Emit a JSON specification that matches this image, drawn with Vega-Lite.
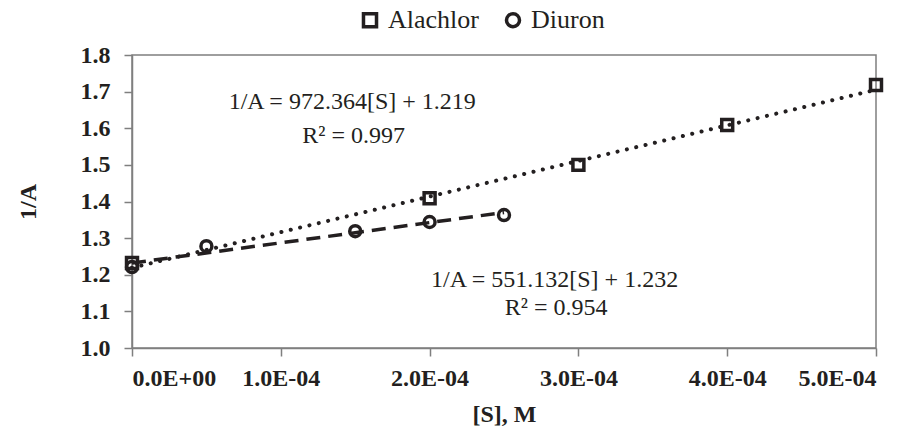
{
  "$schema": "https://vega.github.io/schema/vega-lite/v6.json",
  "width": 744,
  "height": 293,
  "autosize": "none",
  "padding": {"left": 132, "top": 55, "right": 46, "bottom": 84},
  "background": "white",
  "config": {
    "font": "Liberation Serif",
    "view": {"stroke": "#7f7f7f", "strokeWidth": 1.5},
    "axis": {
      "grid": false,
      "domainColor": "#7f7f7f",
      "domainWidth": 1.5,
      "tickColor": "#7f7f7f",
      "tickWidth": 1.5,
      "tickSize": 8,
      "labelOverlap": false,
      "labelFont": "Liberation Serif",
      "labelFontWeight": "bold",
      "labelFontSize": 24,
      "labelColor": "#231f20",
      "titleFont": "Liberation Serif",
      "titleFontWeight": "bold",
      "titleFontSize": 24,
      "titleColor": "#231f20"
    },
    "legend": {
      "labelFont": "Liberation Serif"
    }
  },
  "datasets": {
    "points": [
      {"s": 0, "inv": 1.232, "compound": "Alachlor"},
      {"s": 0.0002, "inv": 1.409, "compound": "Alachlor"},
      {"s": 0.0003, "inv": 1.5, "compound": "Alachlor"},
      {"s": 0.0004, "inv": 1.609, "compound": "Alachlor"},
      {"s": 0.0005, "inv": 1.718, "compound": "Alachlor"},
      {"s": 0, "inv": 1.221, "compound": "Diuron"},
      {"s": 0.00005, "inv": 1.278, "compound": "Diuron"},
      {"s": 0.00015, "inv": 1.319, "compound": "Diuron"},
      {"s": 0.0002, "inv": 1.344, "compound": "Diuron"},
      {"s": 0.00025, "inv": 1.363, "compound": "Diuron"}
    ],
    "trend": [
      {"s": 0, "inv": 1.219, "compound": "Alachlor"},
      {"s": 0.0005, "inv": 1.705, "compound": "Alachlor"},
      {"s": 0, "inv": 1.232, "compound": "Diuron"},
      {"s": 0.00025, "inv": 1.37, "compound": "Diuron"}
    ],
    "labels": [
      {"s": 0.000148, "inv": 1.672, "text": "1/A = 972.364[S] + 1.219"},
      {"s": 0.000149, "inv": 1.578, "text": "R² = 0.997"},
      {"s": 0.000284, "inv": 1.187, "text": "1/A = 551.132[S] + 1.232"},
      {"s": 0.000285, "inv": 1.108, "text": "R² = 0.954"}
    ]
  },
  "encoding": {
    "x": {
      "field": "s",
      "type": "quantitative",
      "scale": {"domain": [0, 0.0005], "nice": false},
      "axis": {
        "values": [0, 0.0001, 0.0002, 0.0003, 0.0004, 0.0005],
        "labelExpr": "datum.value == 0 ? '0.0E+00' : format(datum.value * 10000, '.1f') + 'E-04'",
        "labelPadding": 10,
        "title": "[S], M",
        "titlePadding": 12
      }
    },
    "y": {
      "field": "inv",
      "type": "quantitative",
      "scale": {"domain": [1.0, 1.8], "nice": false, "zero": false},
      "axis": {
        "values": [1.0, 1.1, 1.2, 1.3, 1.4, 1.5, 1.6, 1.7, 1.8],
        "format": ".1f",
        "labelPadding": 14,
        "title": "1/A",
        "titlePadding": 40
      }
    }
  },
  "layer": [
    {
      "data": {"name": "trend"},
      "transform": [{"filter": "datum.compound == 'Alachlor'"}],
      "mark": {"type": "line", "color": "#231f20", "strokeWidth": 4, "strokeCap": "round", "strokeDash": [0.1, 9.5]}
    },
    {
      "data": {"name": "trend"},
      "transform": [{"filter": "datum.compound == 'Diuron'"}],
      "mark": {"type": "line", "color": "#231f20", "strokeWidth": 3.5, "strokeDash": [14, 8]}
    },
    {
      "data": {"name": "points"},
      "mark": {"type": "point", "filled": false, "color": "#231f20", "strokeWidth": 3.5, "size": 120, "opacity": 1},
      "encoding": {
        "shape": {
          "field": "compound",
          "type": "nominal",
          "scale": {"domain": ["Alachlor", "Diuron"], "range": ["square", "circle"]},
          "legend": {
            "title": null,
            "orient": "none",
            "direction": "horizontal",
            "legendX": 225,
            "legendY": -48,
            "labelFontSize": 26,
            "labelColor": "#231f20",
            "symbolStrokeColor": "#231f20",
            "symbolStrokeWidth": 3.5,
            "symbolSize": 170,
            "symbolOpacity": 1,
            "columnPadding": 20,
            "labelOffset": 5
          }
        }
      }
    },
    {
      "data": {"name": "labels"},
      "mark": {"type": "text", "font": "Liberation Serif", "fontSize": 24, "color": "#231f20", "align": "center", "baseline": "middle"},
      "encoding": {
        "text": {"field": "text"}
      }
    }
  ]
}
